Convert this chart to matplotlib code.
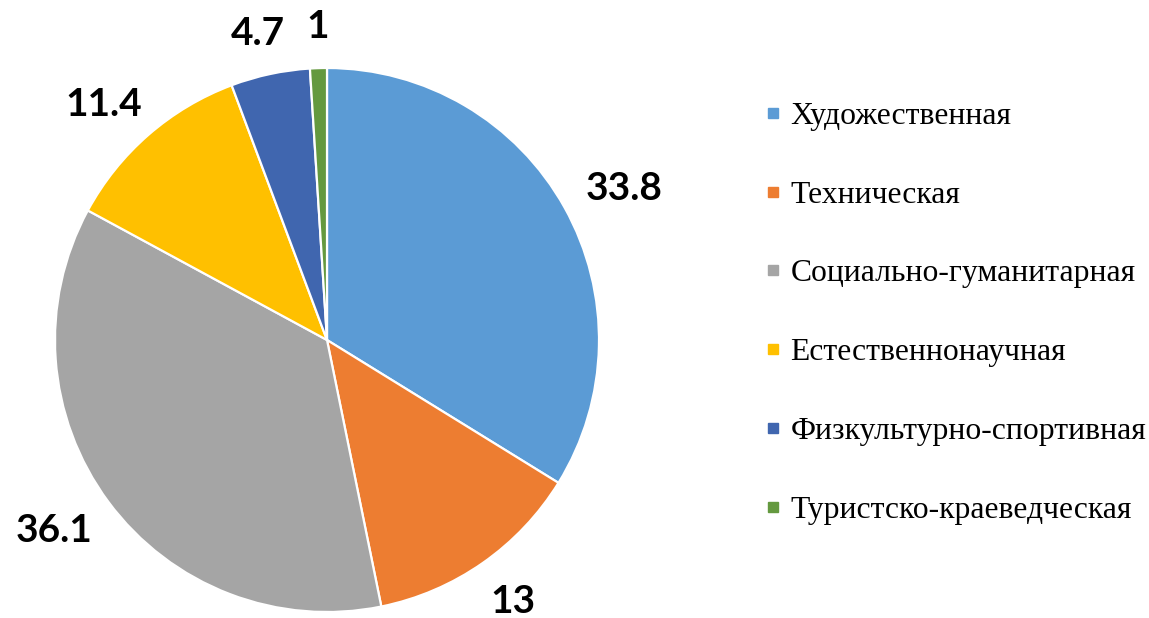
import matplotlib
matplotlib.use("Agg")
import matplotlib.pyplot as plt
from matplotlib.lines import Line2D
from matplotlib.transforms import IdentityTransform
import numpy as np

categories = ["Художественная", "Техническая", "Социально-гуманитарная",
              "Естественнонаучная", "Физкультурно-спортивная", "Туристско-краеведческая"]
values = [33.8, 13, 36.1, 11.4, 4.7, 1]
value_labels = ["33.8", "13", "36.1", "11.4", "4.7", "1"]
colors = ["#5B9BD5", "#ED7D31", "#A5A5A5", "#FFC000", "#4066AF", "#64993F"]

W, H = 1149, 618
fig = plt.figure(figsize=(W / 100, H / 100), dpi=100)
cx, cy, r = 327, 340, 272
ax = fig.add_axes([(cx - r) / W, (H - cy - r) / H, 2 * r / W, 2 * r / H])

wedges, _ = ax.pie(values, colors=colors, startangle=90, counterclock=False,
                   wedgeprops=dict(edgecolor="white", linewidth=1.6))
ax.set_xlim(-1, 1)
ax.set_ylim(-1, 1)
ax.set_aspect("equal")
ax.axis("off")

# Outside-end data labels: anchor point just outside the rim, glyph box aligned
# continuously with the direction of the slice middle (as in office charts).
fig.canvas.draw()
renderer = fig.canvas.get_renderer()
gap = 1.11
fs = 28
fs_px = fs * fig.dpi / 72
cap_h = 0.72 * fs_px
for w, lab in zip(wedges, value_labels):
    ang = np.deg2rad((w.theta1 + w.theta2) / 2)
    c, s = np.cos(ang), np.sin(ang)
    px, py = ax.transData.transform((gap * c, gap * s))
    t = fig.text(0, 0, lab, ha="left", va="baseline", fontsize=fs,
                 fontweight="bold", family="Lato", color="black",
                 transform=IdentityTransform())
    bb = t.get_window_extent(renderer)
    x0 = px - bb.width * (1 - c) / 2
    y0 = py - cap_h * (1 - s) / 2
    t.set_position((x0, y0))

handles = [Line2D([0], [0], marker="s", linestyle="none", markersize=7,
                  markerfacecolor=c, markeredgecolor=c) for c in colors]
fig.legend(handles, categories, loc="center left", bbox_to_anchor=(0.6644, 0.493),
           frameon=False, prop=dict(family="Liberation Serif", size=22.8),
           labelspacing=1.57, handletextpad=0.25, handlelength=0.6, borderpad=0,
           borderaxespad=0)

fig.savefig("out.png", dpi=100)
